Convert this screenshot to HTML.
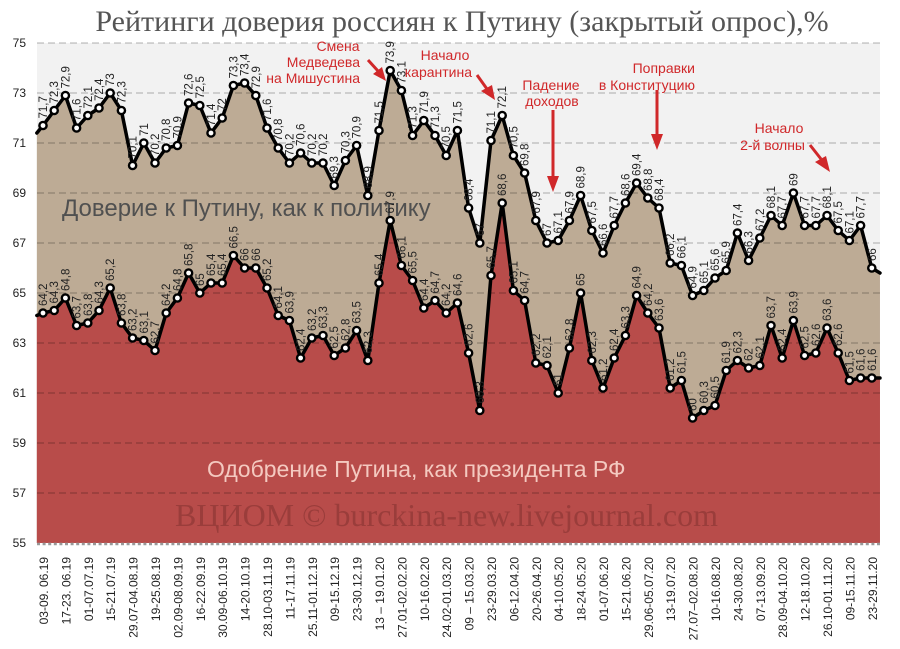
<!DOCTYPE html>
<html><head><meta charset="utf-8"><style>
html,body{margin:0;padding:0;background:#fff;}
svg{display:block;font-family:"Liberation Sans","DejaVu Sans",sans-serif;}
.l text{font-size:11.5px;fill:#222;}
.ax{font-size:12px;fill:#222;}
.an{font-size:14px;fill:#d0282a;}
</style></head><body>
<svg width="900" height="649" viewBox="0 0 900 649" xmlns="http://www.w3.org/2000/svg">
<defs>
<marker id="dot" markerUnits="userSpaceOnUse" markerWidth="1.0714" markerHeight="0.48" viewBox="0 0 12 12" refX="6" refY="6" preserveAspectRatio="none">
<circle cx="6" cy="6" r="3.6" fill="#fff" stroke="#000" stroke-width="2.4"/>
</marker>
</defs>
<rect x="0" y="0" width="900" height="649" fill="#fff"/>
<text x="462" y="31" text-anchor="middle" font-family="Liberation Serif, DejaVu Serif, serif" font-size="30" fill="#555">Рейтинги доверия россиян к Путину (закрытый опрос),%</text>
<rect x="37" y="43" width="843" height="500" fill="#f2f2f2"/>
<g transform="matrix(11.2,0,0,-25,43,1918)">
<polygon fill="#bdab95" points="-0.55,55 -0.55,71.4 0,71.7 1,72.3 2,72.9 3,71.6 4,72.1 5,72.4 6,73 7,72.3 8,70.1 9,71 10,70.2 11,70.8 12,70.9 13,72.6 14,72.5 15,71.4 16,72 17,73.3 18,73.4 19,72.9 20,71.6 21,70.8 22,70.2 23,70.6 24,70.2 25,70.2 26,69.3 27,70.3 28,70.9 29,68.9 30,71.5 31,73.9 32,73.1 33,71.3 34,71.9 35,71.3 36,70.5 37,71.5 38,68.4 39,67 40,71.1 41,72.1 42,70.5 43,69.8 44,67.9 45,67 46,67.1 47,67.9 48,68.9 49,67.5 50,66.6 51,67.7 52,68.6 53,69.4 54,68.8 55,68.4 56,66.2 57,66.1 58,64.9 59,65.1 60,65.6 61,65.9 62,67.4 63,66.3 64,67.2 65,68.1 66,67.7 67,69 68,67.7 69,67.7 70,68.1 71,67.5 72,67.1 73,67.7 74,66 74.73,65.8 74.73,55"/>
<polygon fill="#b84c4a" points="-0.55,55 -0.55,64.1 0,64.2 1,64.3 2,64.8 3,63.7 4,63.8 5,64.3 6,65.2 7,63.8 8,63.2 9,63.1 10,62.7 11,64.2 12,64.8 13,65.8 14,65 15,65.4 16,65.4 17,66.5 18,66 19,66 20,65.2 21,64.1 22,63.9 23,62.4 24,63.2 25,63.3 26,62.5 27,62.8 28,63.5 29,62.3 30,65.4 31,67.9 32,66.1 33,65.5 34,64.4 35,64.7 36,64.2 37,64.6 38,62.6 39,60.3 40,65.7 41,68.6 42,65.1 43,64.7 44,62.2 45,62.1 46,61 47,62.8 48,65 49,62.3 50,61.2 51,62.4 52,63.3 53,64.9 54,64.2 55,63.6 56,61.2 57,61.5 58,60 59,60.3 60,60.5 61,61.9 62,62.3 63,62 64,62.1 65,63.7 66,62.4 67,63.9 68,62.5 69,62.6 70,63.6 71,62.6 72,61.5 73,61.6 74,61.6 74.73,61.6 74.73,55"/>
</g>
<g stroke="rgba(0,0,0,0.3)" stroke-width="1" stroke-dasharray="7,4">
<line x1="37" x2="880" y1="43" y2="43"/><line x1="37" x2="880" y1="93" y2="93"/><line x1="37" x2="880" y1="143" y2="143"/><line x1="37" x2="880" y1="193" y2="193"/><line x1="37" x2="880" y1="243" y2="243"/><line x1="37" x2="880" y1="293" y2="293"/><line x1="37" x2="880" y1="343" y2="343"/><line x1="37" x2="880" y1="393" y2="393"/><line x1="37" x2="880" y1="443" y2="443"/><line x1="37" x2="880" y1="493" y2="493"/>
</g>
<text x="62" y="216" font-size="24" fill="#505050">Доверие к Путину, как к политику</text>
<text x="207" y="477" font-size="23" fill="#f4c9c0">Одобрение Путина, как президента РФ</text>
<text x="175" y="526" font-family="Liberation Serif, DejaVu Serif, serif" font-size="32" fill="#9a3d3b">ВЦИОМ © burckina-new.livejournal.com</text>
<g transform="matrix(11.2,0,0,-25,43,1918)" fill="none" stroke-linejoin="round" stroke-linecap="round">
<polyline vector-effect="non-scaling-stroke" stroke="#000" stroke-width="3.5" points="-0.55,71.4 0,71.7 1,72.3 2,72.9 3,71.6 4,72.1 5,72.4 6,73 7,72.3 8,70.1 9,71 10,70.2 11,70.8 12,70.9 13,72.6 14,72.5 15,71.4 16,72 17,73.3 18,73.4 19,72.9 20,71.6 21,70.8 22,70.2 23,70.6 24,70.2 25,70.2 26,69.3 27,70.3 28,70.9 29,68.9 30,71.5 31,73.9 32,73.1 33,71.3 34,71.9 35,71.3 36,70.5 37,71.5 38,68.4 39,67 40,71.1 41,72.1 42,70.5 43,69.8 44,67.9 45,67 46,67.1 47,67.9 48,68.9 49,67.5 50,66.6 51,67.7 52,68.6 53,69.4 54,68.8 55,68.4 56,66.2 57,66.1 58,64.9 59,65.1 60,65.6 61,65.9 62,67.4 63,66.3 64,67.2 65,68.1 66,67.7 67,69 68,67.7 69,67.7 70,68.1 71,67.5 72,67.1 73,67.7 74,66 74.73,65.8"/>
<polyline vector-effect="non-scaling-stroke" stroke="#000" stroke-width="3.5" points="-0.55,64.1 0,64.2 1,64.3 2,64.8 3,63.7 4,63.8 5,64.3 6,65.2 7,63.8 8,63.2 9,63.1 10,62.7 11,64.2 12,64.8 13,65.8 14,65 15,65.4 16,65.4 17,66.5 18,66 19,66 20,65.2 21,64.1 22,63.9 23,62.4 24,63.2 25,63.3 26,62.5 27,62.8 28,63.5 29,62.3 30,65.4 31,67.9 32,66.1 33,65.5 34,64.4 35,64.7 36,64.2 37,64.6 38,62.6 39,60.3 40,65.7 41,68.6 42,65.1 43,64.7 44,62.2 45,62.1 46,61 47,62.8 48,65 49,62.3 50,61.2 51,62.4 52,63.3 53,64.9 54,64.2 55,63.6 56,61.2 57,61.5 58,60 59,60.3 60,60.5 61,61.9 62,62.3 63,62 64,62.1 65,63.7 66,62.4 67,63.9 68,62.5 69,62.6 70,63.6 71,62.6 72,61.5 73,61.6 74,61.6 74.73,61.6"/>
<polyline stroke="none" marker-start="url(#dot)" marker-mid="url(#dot)" marker-end="url(#dot)" points="0,71.7 1,72.3 2,72.9 3,71.6 4,72.1 5,72.4 6,73 7,72.3 8,70.1 9,71 10,70.2 11,70.8 12,70.9 13,72.6 14,72.5 15,71.4 16,72 17,73.3 18,73.4 19,72.9 20,71.6 21,70.8 22,70.2 23,70.6 24,70.2 25,70.2 26,69.3 27,70.3 28,70.9 29,68.9 30,71.5 31,73.9 32,73.1 33,71.3 34,71.9 35,71.3 36,70.5 37,71.5 38,68.4 39,67 40,71.1 41,72.1 42,70.5 43,69.8 44,67.9 45,67 46,67.1 47,67.9 48,68.9 49,67.5 50,66.6 51,67.7 52,68.6 53,69.4 54,68.8 55,68.4 56,66.2 57,66.1 58,64.9 59,65.1 60,65.6 61,65.9 62,67.4 63,66.3 64,67.2 65,68.1 66,67.7 67,69 68,67.7 69,67.7 70,68.1 71,67.5 72,67.1 73,67.7 74,66"/>
<polyline stroke="none" marker-start="url(#dot)" marker-mid="url(#dot)" marker-end="url(#dot)" points="0,64.2 1,64.3 2,64.8 3,63.7 4,63.8 5,64.3 6,65.2 7,63.8 8,63.2 9,63.1 10,62.7 11,64.2 12,64.8 13,65.8 14,65 15,65.4 16,65.4 17,66.5 18,66 19,66 20,65.2 21,64.1 22,63.9 23,62.4 24,63.2 25,63.3 26,62.5 27,62.8 28,63.5 29,62.3 30,65.4 31,67.9 32,66.1 33,65.5 34,64.4 35,64.7 36,64.2 37,64.6 38,62.6 39,60.3 40,65.7 41,68.6 42,65.1 43,64.7 44,62.2 45,62.1 46,61 47,62.8 48,65 49,62.3 50,61.2 51,62.4 52,63.3 53,64.9 54,64.2 55,63.6 56,61.2 57,61.5 58,60 59,60.3 60,60.5 61,61.9 62,62.3 63,62 64,62.1 65,63.7 66,62.4 67,63.9 68,62.5 69,62.6 70,63.6 71,62.6 72,61.5 73,61.6 74,61.6"/>
</g>
<g class="l" transform="matrix(11.2,0,0,-25,43,1918)">
<text transform="translate(0,71.7) scale(.08929,-.04) rotate(-90)" x="7" y="4">71,7</text>
<text transform="translate(1,72.3) scale(.08929,-.04) rotate(-90)" x="7" y="4">72,3</text>
<text transform="translate(2,72.9) scale(.08929,-.04) rotate(-90)" x="7" y="4">72,9</text>
<text transform="translate(3,71.6) scale(.08929,-.04) rotate(-90)" x="7" y="4">71,6</text>
<text transform="translate(4,72.1) scale(.08929,-.04) rotate(-90)" x="7" y="4">72,1</text>
<text transform="translate(5,72.4) scale(.08929,-.04) rotate(-90)" x="7" y="4">72,4</text>
<text transform="translate(6,73) scale(.08929,-.04) rotate(-90)" x="7" y="4">73</text>
<text transform="translate(7,72.3) scale(.08929,-.04) rotate(-90)" x="7" y="4">72,3</text>
<text transform="translate(8,70.1) scale(.08929,-.04) rotate(-90)" x="7" y="4">70,1</text>
<text transform="translate(9,71) scale(.08929,-.04) rotate(-90)" x="7" y="4">71</text>
<text transform="translate(10,70.2) scale(.08929,-.04) rotate(-90)" x="7" y="4">70,2</text>
<text transform="translate(11,70.8) scale(.08929,-.04) rotate(-90)" x="7" y="4">70,8</text>
<text transform="translate(12,70.9) scale(.08929,-.04) rotate(-90)" x="7" y="4">70,9</text>
<text transform="translate(13,72.6) scale(.08929,-.04) rotate(-90)" x="7" y="4">72,6</text>
<text transform="translate(14,72.5) scale(.08929,-.04) rotate(-90)" x="7" y="4">72,5</text>
<text transform="translate(15,71.4) scale(.08929,-.04) rotate(-90)" x="7" y="4">71,4</text>
<text transform="translate(16,72) scale(.08929,-.04) rotate(-90)" x="7" y="4">72</text>
<text transform="translate(17,73.3) scale(.08929,-.04) rotate(-90)" x="7" y="4">73,3</text>
<text transform="translate(18,73.4) scale(.08929,-.04) rotate(-90)" x="7" y="4">73,4</text>
<text transform="translate(19,72.9) scale(.08929,-.04) rotate(-90)" x="7" y="4">72,9</text>
<text transform="translate(20,71.6) scale(.08929,-.04) rotate(-90)" x="7" y="4">71,6</text>
<text transform="translate(21,70.8) scale(.08929,-.04) rotate(-90)" x="7" y="4">70,8</text>
<text transform="translate(22,70.2) scale(.08929,-.04) rotate(-90)" x="7" y="4">70,2</text>
<text transform="translate(23,70.6) scale(.08929,-.04) rotate(-90)" x="7" y="4">70,6</text>
<text transform="translate(24,70.2) scale(.08929,-.04) rotate(-90)" x="7" y="4">70,2</text>
<text transform="translate(25,70.2) scale(.08929,-.04) rotate(-90)" x="7" y="4">70,2</text>
<text transform="translate(26,69.3) scale(.08929,-.04) rotate(-90)" x="7" y="4">69,3</text>
<text transform="translate(27,70.3) scale(.08929,-.04) rotate(-90)" x="7" y="4">70,3</text>
<text transform="translate(28,70.9) scale(.08929,-.04) rotate(-90)" x="7" y="4">70,9</text>
<text transform="translate(29,68.9) scale(.08929,-.04) rotate(-90)" x="7" y="4">68,9</text>
<text transform="translate(30,71.5) scale(.08929,-.04) rotate(-90)" x="7" y="4">71,5</text>
<text transform="translate(31,73.9) scale(.08929,-.04) rotate(-90)" x="7" y="4">73,9</text>
<text transform="translate(32,73.1) scale(.08929,-.04) rotate(-90)" x="7" y="4">73,1</text>
<text transform="translate(33,71.3) scale(.08929,-.04) rotate(-90)" x="7" y="4">71,3</text>
<text transform="translate(34,71.9) scale(.08929,-.04) rotate(-90)" x="7" y="4">71,9</text>
<text transform="translate(35,71.3) scale(.08929,-.04) rotate(-90)" x="7" y="4">71,3</text>
<text transform="translate(36,70.5) scale(.08929,-.04) rotate(-90)" x="7" y="4">70,5</text>
<text transform="translate(37,71.5) scale(.08929,-.04) rotate(-90)" x="7" y="4">71,5</text>
<text transform="translate(38,68.4) scale(.08929,-.04) rotate(-90)" x="7" y="4">68,4</text>
<text transform="translate(39,67) scale(.08929,-.04) rotate(-90)" x="7" y="4">67</text>
<text transform="translate(40,71.1) scale(.08929,-.04) rotate(-90)" x="7" y="4">71,1</text>
<text transform="translate(41,72.1) scale(.08929,-.04) rotate(-90)" x="7" y="4">72,1</text>
<text transform="translate(42,70.5) scale(.08929,-.04) rotate(-90)" x="7" y="4">70,5</text>
<text transform="translate(43,69.8) scale(.08929,-.04) rotate(-90)" x="7" y="4">69,8</text>
<text transform="translate(44,67.9) scale(.08929,-.04) rotate(-90)" x="7" y="4">67,9</text>
<text transform="translate(45,67) scale(.08929,-.04) rotate(-90)" x="7" y="4">67</text>
<text transform="translate(46,67.1) scale(.08929,-.04) rotate(-90)" x="7" y="4">67,1</text>
<text transform="translate(47,67.9) scale(.08929,-.04) rotate(-90)" x="7" y="4">67,9</text>
<text transform="translate(48,68.9) scale(.08929,-.04) rotate(-90)" x="7" y="4">68,9</text>
<text transform="translate(49,67.5) scale(.08929,-.04) rotate(-90)" x="7" y="4">67,5</text>
<text transform="translate(50,66.6) scale(.08929,-.04) rotate(-90)" x="7" y="4">66,6</text>
<text transform="translate(51,67.7) scale(.08929,-.04) rotate(-90)" x="7" y="4">67,7</text>
<text transform="translate(52,68.6) scale(.08929,-.04) rotate(-90)" x="7" y="4">68,6</text>
<text transform="translate(53,69.4) scale(.08929,-.04) rotate(-90)" x="7" y="4">69,4</text>
<text transform="translate(54,68.8) scale(.08929,-.04) rotate(-90)" x="7" y="4">68,8</text>
<text transform="translate(55,68.4) scale(.08929,-.04) rotate(-90)" x="7" y="4">68,4</text>
<text transform="translate(56,66.2) scale(.08929,-.04) rotate(-90)" x="7" y="4">66,2</text>
<text transform="translate(57,66.1) scale(.08929,-.04) rotate(-90)" x="7" y="4">66,1</text>
<text transform="translate(58,64.9) scale(.08929,-.04) rotate(-90)" x="7" y="4">64,9</text>
<text transform="translate(59,65.1) scale(.08929,-.04) rotate(-90)" x="7" y="4">65,1</text>
<text transform="translate(60,65.6) scale(.08929,-.04) rotate(-90)" x="7" y="4">65,6</text>
<text transform="translate(61,65.9) scale(.08929,-.04) rotate(-90)" x="7" y="4">65,9</text>
<text transform="translate(62,67.4) scale(.08929,-.04) rotate(-90)" x="7" y="4">67,4</text>
<text transform="translate(63,66.3) scale(.08929,-.04) rotate(-90)" x="7" y="4">66,3</text>
<text transform="translate(64,67.2) scale(.08929,-.04) rotate(-90)" x="7" y="4">67,2</text>
<text transform="translate(65,68.1) scale(.08929,-.04) rotate(-90)" x="7" y="4">68,1</text>
<text transform="translate(66,67.7) scale(.08929,-.04) rotate(-90)" x="7" y="4">67,7</text>
<text transform="translate(67,69) scale(.08929,-.04) rotate(-90)" x="7" y="4">69</text>
<text transform="translate(68,67.7) scale(.08929,-.04) rotate(-90)" x="7" y="4">67,7</text>
<text transform="translate(69,67.7) scale(.08929,-.04) rotate(-90)" x="7" y="4">67,7</text>
<text transform="translate(70,68.1) scale(.08929,-.04) rotate(-90)" x="7" y="4">68,1</text>
<text transform="translate(71,67.5) scale(.08929,-.04) rotate(-90)" x="7" y="4">67,5</text>
<text transform="translate(72,67.1) scale(.08929,-.04) rotate(-90)" x="7" y="4">67,1</text>
<text transform="translate(73,67.7) scale(.08929,-.04) rotate(-90)" x="7" y="4">67,7</text>
<text transform="translate(74,66) scale(.08929,-.04) rotate(-90)" x="7" y="4">66</text>
<text transform="translate(0,64.2) scale(.08929,-.04) rotate(-90)" x="7" y="4">64,2</text>
<text transform="translate(1,64.3) scale(.08929,-.04) rotate(-90)" x="7" y="4">64,3</text>
<text transform="translate(2,64.8) scale(.08929,-.04) rotate(-90)" x="7" y="4">64,8</text>
<text transform="translate(3,63.7) scale(.08929,-.04) rotate(-90)" x="7" y="4">63,7</text>
<text transform="translate(4,63.8) scale(.08929,-.04) rotate(-90)" x="7" y="4">63,8</text>
<text transform="translate(5,64.3) scale(.08929,-.04) rotate(-90)" x="7" y="4">64,3</text>
<text transform="translate(6,65.2) scale(.08929,-.04) rotate(-90)" x="7" y="4">65,2</text>
<text transform="translate(7,63.8) scale(.08929,-.04) rotate(-90)" x="7" y="4">63,8</text>
<text transform="translate(8,63.2) scale(.08929,-.04) rotate(-90)" x="7" y="4">63,2</text>
<text transform="translate(9,63.1) scale(.08929,-.04) rotate(-90)" x="7" y="4">63,1</text>
<text transform="translate(10,62.7) scale(.08929,-.04) rotate(-90)" x="7" y="4">62,7</text>
<text transform="translate(11,64.2) scale(.08929,-.04) rotate(-90)" x="7" y="4">64,2</text>
<text transform="translate(12,64.8) scale(.08929,-.04) rotate(-90)" x="7" y="4">64,8</text>
<text transform="translate(13,65.8) scale(.08929,-.04) rotate(-90)" x="7" y="4">65,8</text>
<text transform="translate(14,65) scale(.08929,-.04) rotate(-90)" x="7" y="4">65</text>
<text transform="translate(15,65.4) scale(.08929,-.04) rotate(-90)" x="7" y="4">65,4</text>
<text transform="translate(16,65.4) scale(.08929,-.04) rotate(-90)" x="7" y="4">65,4</text>
<text transform="translate(17,66.5) scale(.08929,-.04) rotate(-90)" x="7" y="4">66,5</text>
<text transform="translate(18,66) scale(.08929,-.04) rotate(-90)" x="7" y="4">66</text>
<text transform="translate(19,66) scale(.08929,-.04) rotate(-90)" x="7" y="4">66</text>
<text transform="translate(20,65.2) scale(.08929,-.04) rotate(-90)" x="7" y="4">65,2</text>
<text transform="translate(21,64.1) scale(.08929,-.04) rotate(-90)" x="7" y="4">64,1</text>
<text transform="translate(22,63.9) scale(.08929,-.04) rotate(-90)" x="7" y="4">63,9</text>
<text transform="translate(23,62.4) scale(.08929,-.04) rotate(-90)" x="7" y="4">62,4</text>
<text transform="translate(24,63.2) scale(.08929,-.04) rotate(-90)" x="7" y="4">63,2</text>
<text transform="translate(25,63.3) scale(.08929,-.04) rotate(-90)" x="7" y="4">63,3</text>
<text transform="translate(26,62.5) scale(.08929,-.04) rotate(-90)" x="7" y="4">62,5</text>
<text transform="translate(27,62.8) scale(.08929,-.04) rotate(-90)" x="7" y="4">62,8</text>
<text transform="translate(28,63.5) scale(.08929,-.04) rotate(-90)" x="7" y="4">63,5</text>
<text transform="translate(29,62.3) scale(.08929,-.04) rotate(-90)" x="7" y="4">62,3</text>
<text transform="translate(30,65.4) scale(.08929,-.04) rotate(-90)" x="7" y="4">65,4</text>
<text transform="translate(31,67.9) scale(.08929,-.04) rotate(-90)" x="7" y="4">67,9</text>
<text transform="translate(32,66.1) scale(.08929,-.04) rotate(-90)" x="7" y="4">66,1</text>
<text transform="translate(33,65.5) scale(.08929,-.04) rotate(-90)" x="7" y="4">65,5</text>
<text transform="translate(34,64.4) scale(.08929,-.04) rotate(-90)" x="7" y="4">64,4</text>
<text transform="translate(35,64.7) scale(.08929,-.04) rotate(-90)" x="7" y="4">64,7</text>
<text transform="translate(36,64.2) scale(.08929,-.04) rotate(-90)" x="7" y="4">64,2</text>
<text transform="translate(37,64.6) scale(.08929,-.04) rotate(-90)" x="7" y="4">64,6</text>
<text transform="translate(38,62.6) scale(.08929,-.04) rotate(-90)" x="7" y="4">62,6</text>
<text transform="translate(39,60.3) scale(.08929,-.04) rotate(-90)" x="7" y="4">60,3</text>
<text transform="translate(40,65.7) scale(.08929,-.04) rotate(-90)" x="7" y="4">65,7</text>
<text transform="translate(41,68.6) scale(.08929,-.04) rotate(-90)" x="7" y="4">68,6</text>
<text transform="translate(42,65.1) scale(.08929,-.04) rotate(-90)" x="7" y="4">65,1</text>
<text transform="translate(43,64.7) scale(.08929,-.04) rotate(-90)" x="7" y="4">64,7</text>
<text transform="translate(44,62.2) scale(.08929,-.04) rotate(-90)" x="7" y="4">62,2</text>
<text transform="translate(45,62.1) scale(.08929,-.04) rotate(-90)" x="7" y="4">62,1</text>
<text transform="translate(46,61) scale(.08929,-.04) rotate(-90)" x="7" y="4">61</text>
<text transform="translate(47,62.8) scale(.08929,-.04) rotate(-90)" x="7" y="4">62,8</text>
<text transform="translate(48,65) scale(.08929,-.04) rotate(-90)" x="7" y="4">65</text>
<text transform="translate(49,62.3) scale(.08929,-.04) rotate(-90)" x="7" y="4">62,3</text>
<text transform="translate(50,61.2) scale(.08929,-.04) rotate(-90)" x="7" y="4">61,2</text>
<text transform="translate(51,62.4) scale(.08929,-.04) rotate(-90)" x="7" y="4">62,4</text>
<text transform="translate(52,63.3) scale(.08929,-.04) rotate(-90)" x="7" y="4">63,3</text>
<text transform="translate(53,64.9) scale(.08929,-.04) rotate(-90)" x="7" y="4">64,9</text>
<text transform="translate(54,64.2) scale(.08929,-.04) rotate(-90)" x="7" y="4">64,2</text>
<text transform="translate(55,63.6) scale(.08929,-.04) rotate(-90)" x="7" y="4">63,6</text>
<text transform="translate(56,61.2) scale(.08929,-.04) rotate(-90)" x="7" y="4">61,2</text>
<text transform="translate(57,61.5) scale(.08929,-.04) rotate(-90)" x="7" y="4">61,5</text>
<text transform="translate(58,60) scale(.08929,-.04) rotate(-90)" x="7" y="4">60</text>
<text transform="translate(59,60.3) scale(.08929,-.04) rotate(-90)" x="7" y="4">60,3</text>
<text transform="translate(60,60.5) scale(.08929,-.04) rotate(-90)" x="7" y="4">60,5</text>
<text transform="translate(61,61.9) scale(.08929,-.04) rotate(-90)" x="7" y="4">61,9</text>
<text transform="translate(62,62.3) scale(.08929,-.04) rotate(-90)" x="7" y="4">62,3</text>
<text transform="translate(63,62) scale(.08929,-.04) rotate(-90)" x="7" y="4">62</text>
<text transform="translate(64,62.1) scale(.08929,-.04) rotate(-90)" x="7" y="4">62,1</text>
<text transform="translate(65,63.7) scale(.08929,-.04) rotate(-90)" x="7" y="4">63,7</text>
<text transform="translate(66,62.4) scale(.08929,-.04) rotate(-90)" x="7" y="4">62,4</text>
<text transform="translate(67,63.9) scale(.08929,-.04) rotate(-90)" x="7" y="4">63,9</text>
<text transform="translate(68,62.5) scale(.08929,-.04) rotate(-90)" x="7" y="4">62,5</text>
<text transform="translate(69,62.6) scale(.08929,-.04) rotate(-90)" x="7" y="4">62,6</text>
<text transform="translate(70,63.6) scale(.08929,-.04) rotate(-90)" x="7" y="4">63,6</text>
<text transform="translate(71,62.6) scale(.08929,-.04) rotate(-90)" x="7" y="4">62,6</text>
<text transform="translate(72,61.5) scale(.08929,-.04) rotate(-90)" x="7" y="4">61,5</text>
<text transform="translate(73,61.6) scale(.08929,-.04) rotate(-90)" x="7" y="4">61,6</text>
<text transform="translate(74,61.6) scale(.08929,-.04) rotate(-90)" x="7" y="4">61,6</text>
</g>
<g class="an">
<text x="338" y="51" text-anchor="middle">Смена</text>
<text x="360" y="67" text-anchor="end">Медведева</text>
<text x="360" y="83" text-anchor="end">на Мишустина</text>
<text x="445" y="60" text-anchor="middle">Начало</text>
<text x="472" y="77" text-anchor="end">карантина</text>
<text x="551" y="90" text-anchor="middle">Падение</text>
<text x="552" y="106" text-anchor="middle">доходов</text>
<text x="695" y="73" text-anchor="end">Поправки</text>
<text x="695" y="90" text-anchor="end">в Конституцию</text>
<text x="779" y="133" text-anchor="middle">Начало</text>
<text x="805" y="150" text-anchor="end">2-й волны</text>
</g>
<g stroke="#d0282a" stroke-width="3" fill="#d0282a">
<line x1="368" y1="60" x2="378" y2="71"/><polygon stroke="none" points="373,74 386,81 382,67"/>
<line x1="477" y1="75" x2="487" y2="89"/><polygon stroke="none" points="481,91 495,100 492,85"/>
<line x1="553" y1="110" x2="553" y2="178"/><polygon stroke="none" points="547,176 559,176 553,192"/>
<line x1="657" y1="90" x2="657" y2="136"/><polygon stroke="none" points="651,134 663,134 657,150"/>
<line x1="810" y1="145" x2="821" y2="159"/><polygon stroke="none" points="815,162 830,172 826,156"/>
</g>
<g class="ax" text-anchor="end">
<text x="26" y="47">75</text><text x="26" y="97">73</text><text x="26" y="147">71</text><text x="26" y="197">69</text><text x="26" y="247">67</text><text x="26" y="297">65</text><text x="26" y="347">63</text><text x="26" y="397">61</text><text x="26" y="447">59</text><text x="26" y="497">57</text><text x="26" y="547">55</text>
</g>
<line x1="37" x2="880" y1="544" y2="544" stroke="#999" stroke-width="2.5" stroke-dasharray="3,2.6"/>
<g class="ax" text-anchor="end">
<text transform="translate(48,557) rotate(-90)">03-09. 06.19</text>
<text transform="translate(70.4,557) rotate(-90)">17-23. 06.19</text>
<text transform="translate(92.8,557) rotate(-90)">01-07.07.19</text>
<text transform="translate(115.2,557) rotate(-90)">15-21.07.19</text>
<text transform="translate(137.6,557) rotate(-90)">29.07-04.08.19</text>
<text transform="translate(160,557) rotate(-90)">19-25.08.19</text>
<text transform="translate(182.4,557) rotate(-90)">02.09-08.09.19</text>
<text transform="translate(204.8,557) rotate(-90)">16-22.09.19</text>
<text transform="translate(227.2,557) rotate(-90)">30.09-06.10.19</text>
<text transform="translate(249.6,557) rotate(-90)">14-20.10.19</text>
<text transform="translate(272,557) rotate(-90)">28.10-03.11.19</text>
<text transform="translate(294.4,557) rotate(-90)">11-17.11.19</text>
<text transform="translate(316.8,557) rotate(-90)">25.11-01.12.19</text>
<text transform="translate(339.2,557) rotate(-90)">09-15.12.19</text>
<text transform="translate(361.6,557) rotate(-90)">23-30.12.19</text>
<text transform="translate(384,557) rotate(-90)">13 – 19.01.20</text>
<text transform="translate(406.4,557) rotate(-90)">27.01-02.02.20</text>
<text transform="translate(428.8,557) rotate(-90)">10-16.02.20</text>
<text transform="translate(451.2,557) rotate(-90)">24.02-01.03.20</text>
<text transform="translate(473.6,557) rotate(-90)">09 – 15.03.20</text>
<text transform="translate(496,557) rotate(-90)">23-29.03.20</text>
<text transform="translate(518.4,557) rotate(-90)">06-12.04.20</text>
<text transform="translate(540.8,557) rotate(-90)">20-26.04.20</text>
<text transform="translate(563.2,557) rotate(-90)">04-10.05.20</text>
<text transform="translate(585.6,557) rotate(-90)">18-24.05.20</text>
<text transform="translate(608,557) rotate(-90)">01-07.06.20</text>
<text transform="translate(630.4,557) rotate(-90)">15-21.06.20</text>
<text transform="translate(652.8,557) rotate(-90)">29.06-05.07.20</text>
<text transform="translate(675.2,557) rotate(-90)">13-19.07.20</text>
<text transform="translate(697.6,557) rotate(-90)">27.07–02.08.20</text>
<text transform="translate(720,557) rotate(-90)">10-16.08.20</text>
<text transform="translate(742.4,557) rotate(-90)">24-30.08.20</text>
<text transform="translate(764.8,557) rotate(-90)">07-13.09.20</text>
<text transform="translate(787.2,557) rotate(-90)">28.09-04.10.20</text>
<text transform="translate(809.6,557) rotate(-90)">12-18.10.20</text>
<text transform="translate(832,557) rotate(-90)">26.10-01.11.20</text>
<text transform="translate(854.4,557) rotate(-90)">09-15.11.20</text>
<text transform="translate(876.8,557) rotate(-90)">23-29.11.20</text>
</g>
</svg>
</body></html>
